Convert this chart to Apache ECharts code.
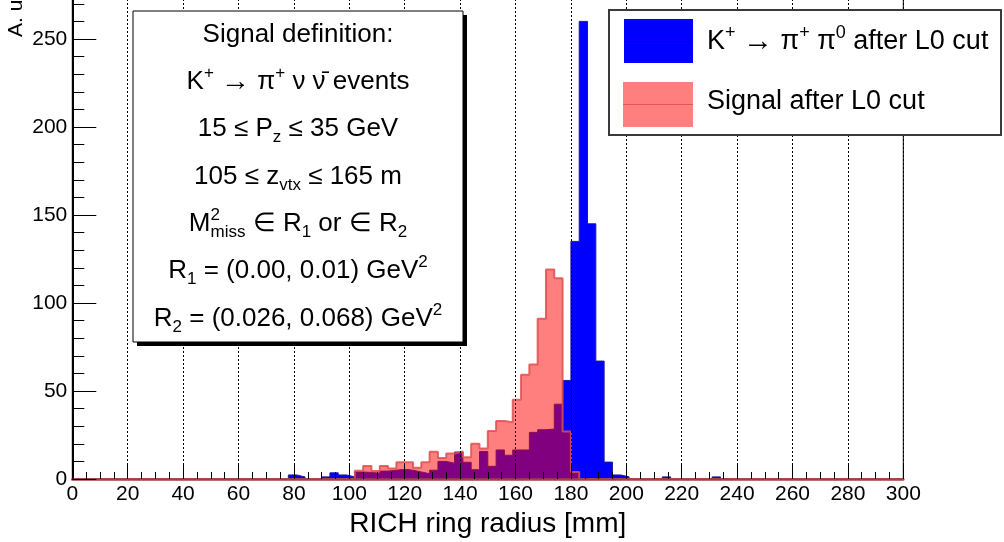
<!DOCTYPE html>
<html>
<head>
<meta charset="utf-8">
<script src="https://cdn.jsdelivr.net/npm/echarts@6/dist/echarts.min.js"></script>
<style>
  html, body { margin: 0; padding: 0; background: #fff; }
  #chart { width: 1004px; height: 542px; }
</style>
</head>
<body>
<div id="chart"></div>
<script>
// Histogram binning: 100 bins of 3 mm from 0 to 300 mm
const binWidth = 3;
const xMin = 0;
const xMax = 300;

// K+ -> pi+ pi0 after L0 cut (entries per 3 mm bin)
const kpipi0 = [
  0, 0, 0, 0, 0, 0, 0, 0, 0, 0,            //   0 -  30
  0, 0, 0, 0, 0, 0, 0, 0, 0, 0,            //  30 -  60
  0, 0, 0, 0, 0, 0, 2.3, 1.2, 0, 0,        //  60 -  90
  1.2, 3.5, 2.3, 1.2, 4, 3.7, 3.3, 4.5, 5, 5.5,        //  90 - 120
  5, 4, 3, 5, 10, 9, 15.3, 9.5, 5.3, 15.6,             // 120 - 150
  7.2, 16.5, 13.5, 16.5, 16.5, 26.5, 28, 28.4, 42.5, 56, // 150 - 180
  135, 260, 145, 67, 9.6, 2.3, 1.2, 0, 0, 0,          // 180 - 210
  0, 1.2, 0, 0, 0, 0, 0, 1.2, 0, 0,        // 210 - 240
  0, 0, 0, 0, 0, 0, 0, 0, 0, 0,            // 240 - 270
  0, 0, 0, 0, 0, 0, 0, 0, 0, 0             // 270 - 300
];

// Signal (K+ -> pi+ nu nubar) after L0 cut
const signal = [
  0, 0, 0, 0, 0, 0, 0, 0, 0, 0,
  0, 0, 0, 0, 0, 0, 0, 0, 0, 0,
  0, 0, 0, 0, 0, 0, 0, 0, 0, 0,
  0, 0, 0, 0, 4.7, 7.4, 4.5, 7.4, 6, 9.5,
  9.5, 6.4, 9.5, 15.5, 12, 14.5, 15.6, 12.3, 20, 17.4,
  27.3, 33, 32.3, 45, 59.3, 65, 91, 119, 114, 27,
  4, 0, 0, 0, 0, 0, 0, 0, 0, 0,
  0, 0, 0, 0, 0, 0, 0, 0, 0, 0,
  0, 0, 0, 0, 0, 0, 0, 0, 0, 0,
  0, 0, 0, 0, 0, 0, 0, 0, 0, 0
];

const legendLabels = [
  '{t|K}{sup|+}{t| }{arr|\u2192}{t| \u03c0}{sup|+}{t| \u03c0}{sup|0}{t| after L0 cut}',
  '{t|Signal after L0 cut}'
];

// Text block lines; the mass line is laid out separately (stacked super/subscript)
const definitionLines = [
  '{t|Signal definition:}',
  '{t|K}{sup|+}{t| }{arr|\u2192}{t| \u03c0}{sup|+}{t| \u03bd \u03bd\u0304 events}',
  '{t|15 \u2264 P}{sub|z}{t| \u2264 35 GeV}',
  '{t|105 \u2264 z}{sub|vtx}{t| \u2264 165 m}',
  null,
  '{t|R}{sub|1}{t| = (0.00, 0.01) GeV}{sup|2}',
  '{t|R}{sub|2}{t| = (0.026, 0.068) GeV}{sup|2}'
];
const massLineIndex = 4;
const massTokens = [
  ['t', 'M'], ['sub', 'miss'], ['t', ' \u2208 R'], ['sub', '1'], ['t', ' or \u2208 R'], ['sub', '2']
];

const FONT = 'Liberation Sans, Arial, Helvetica, sans-serif';

// Left bin edges paired with contents, closed at the upper edge, for a stepped outline
function stepPoints(values) {
  const pts = values.map((v, i) => [xMin + i * binWidth, v]);
  pts.push([xMin + values.length * binWidth, values[values.length - 1]]);
  return pts;
}

// Half-density red fill (see-through over the blue histogram)
const redFill = 'rgba(255,0,0,0.5)';
const redLine = 'rgba(220,80,80,0.85)';

function richStyles(size) {
  const small = Math.round(size * 0.65);
  const base = { fontFamily: FONT, color: '#000' };
  return {
    t: { ...base, fontSize: size, lineHeight: size + 8 },
    arr: { ...base, fontSize: Math.round(size * 1.1), lineHeight: size + 8 },
    sup: { ...base, fontSize: small, lineHeight: small, verticalAlign: 'top' },
    sub: { ...base, fontSize: small, lineHeight: small, verticalAlign: 'bottom' }
  };
}

const measureCtx = document.createElement('canvas').getContext('2d');
function textWidth(str, size) {
  measureCtx.font = size + 'px ' + FONT;
  return measureCtx.measureText(str).width;
}

const chart = echarts.init(document.getElementById('chart'), null, { renderer: 'canvas' });

const boxLeft = 133, boxTop = 11, boxW = 330, boxH = 331;
const defSize = 26;
const defSmall = Math.round(defSize * 0.65);
const boxCenterX = boxLeft + boxW / 2;
const lineY = i => boxTop + (i + 0.5) * boxH / definitionLines.length;

const defElements = [];
definitionLines.forEach((txt, i) => {
  if (txt === null) return;
  defElements.push({
    type: 'text', x: boxCenterX, y: lineY(i), z: 12,
    style: { text: txt, rich: richStyles(defSize), align: 'center', verticalAlign: 'middle' }
  });
});

// Mass line: M with "2" above "miss"
(function () {
  const sizeOf = k => (k === 't' ? defSize : defSmall);
  const total = massTokens.reduce((s, [k, str]) => s + textWidth(str, sizeOf(k)), 0);
  const x0 = boxCenterX - total / 2;
  const y = lineY(massLineIndex);
  defElements.push({
    type: 'text', x: x0, y: y, z: 12,
    style: {
      text: massTokens.map(([k, str]) => '{' + k + '|' + str + '}').join(''),
      rich: richStyles(defSize), align: 'left', verticalAlign: 'middle'
    }
  });
  defElements.push({
    type: 'text', x: x0 + textWidth('M', defSize), y: y - (defSize + 8) / 2 + defSmall / 2, z: 12,
    style: { text: '2', fontSize: defSmall, fontFamily: FONT, fill: '#000', align: 'left', verticalAlign: 'middle' }
  });
})();

chart.setOption({
  animation: false,
  grid: {
    left: 72.3, right: 100.7, top: -49, bottom: 63,
    show: true, borderColor: '#000', borderWidth: 1, backgroundColor: 'transparent',
    containLabel: false, outerBoundsMode: 'none'
  },
  xAxis: {
    type: 'value', min: xMin, max: xMax, interval: 20, z: 3,
    axisLine: { show: true, onZero: false, lineStyle: { color: '#9a4444', width: 2.5 } },
    axisTick: { show: true, inside: true, length: 14, lineStyle: { color: '#000', width: 1 } },
    minorTick: { show: true, splitNumber: 4, length: 7, lineStyle: { color: '#000', width: 1 } },
    axisLabel: { fontSize: 21, fontFamily: FONT, color: '#000', margin: 5 },
    splitLine: { show: true, lineStyle: { color: '#000', type: [2, 2], width: 1 } },
    name: 'RICH ring radius [mm]', nameLocation: 'middle', nameGap: 14,
    nameTextStyle: { fontSize: 28, fontFamily: FONT, color: '#000', verticalAlign: 'top' }
  },
  yAxis: {
    type: 'value', min: 0, max: 300, interval: 50, z: 3,
    axisLine: { show: true, lineStyle: { color: '#000', width: 2 } },
    axisTick: { show: true, inside: true, length: 24, lineStyle: { color: '#000', width: 1 } },
    minorTick: { show: true, splitNumber: 5, length: 12, lineStyle: { color: '#000', width: 1 } },
    axisLabel: { fontSize: 21, fontFamily: FONT, color: '#000', margin: 5, showMaxLabel: false },
    splitLine: { show: false }
  },
  series: [
    {
      name: 'K+ -> pi+ pi0 after L0 cut', type: 'line', step: 'end', z: 1,
      data: stepPoints(kpipi0), symbol: 'none',
      lineStyle: { color: '#1a1a9e', width: 1 },
      areaStyle: { color: '#0000ff', opacity: 1 }
    },
    {
      name: 'Signal after L0 cut', type: 'line', step: 'end', z: 2,
      data: stepPoints(signal), symbol: 'none',
      lineStyle: { color: redLine, width: 2 },
      areaStyle: { color: redFill, opacity: 1 }
    }
  ],
  graphic: [
    // y-axis title
    {
      type: 'text', x: 16, y: 37, rotation: Math.PI / 2, z: 12,
      style: { text: 'A. u.', fontSize: 21, fontFamily: FONT, fill: '#000', align: 'left', verticalAlign: 'middle' }
    },
    // definition box with drop shadow
    { type: 'rect', z: 10, shape: { x: boxLeft + 4, y: boxTop + 4, width: boxW, height: boxH }, style: { fill: '#000' } },
    { type: 'rect', z: 11, shape: { x: boxLeft, y: boxTop, width: boxW, height: boxH }, style: { fill: '#fff', stroke: '#000', lineWidth: 1 } },
    ...defElements,
    // legend
    { type: 'rect', z: 11, shape: { x: 609, y: 10, width: 392, height: 125 }, style: { fill: '#fff', stroke: '#3a3a3a', lineWidth: 2 } },
    { type: 'rect', z: 12, shape: { x: 624, y: 19, width: 69, height: 44 }, style: { fill: '#0000ff' } },
    { type: 'line', z: 13, shape: { x1: 624, y1: 41.5, x2: 693, y2: 41.5 }, style: { stroke: '#101060', lineWidth: 1 } },
    { type: 'rect', z: 12, shape: { x: 623, y: 82, width: 70, height: 45 }, style: { fill: redFill } },
    { type: 'line', z: 13, shape: { x1: 623, y1: 104.5, x2: 693, y2: 104.5 }, style: { stroke: redLine, lineWidth: 1 } },
    {
      type: 'text', x: 707, y: 42, z: 13,
      style: { text: legendLabels[0], rich: richStyles(27), align: 'left', verticalAlign: 'middle' }
    },
    {
      type: 'text', x: 707, y: 102, z: 13,
      style: { text: legendLabels[1], rich: richStyles(27), align: 'left', verticalAlign: 'middle' }
    }
  ]
});
</script>
</body>
</html>
